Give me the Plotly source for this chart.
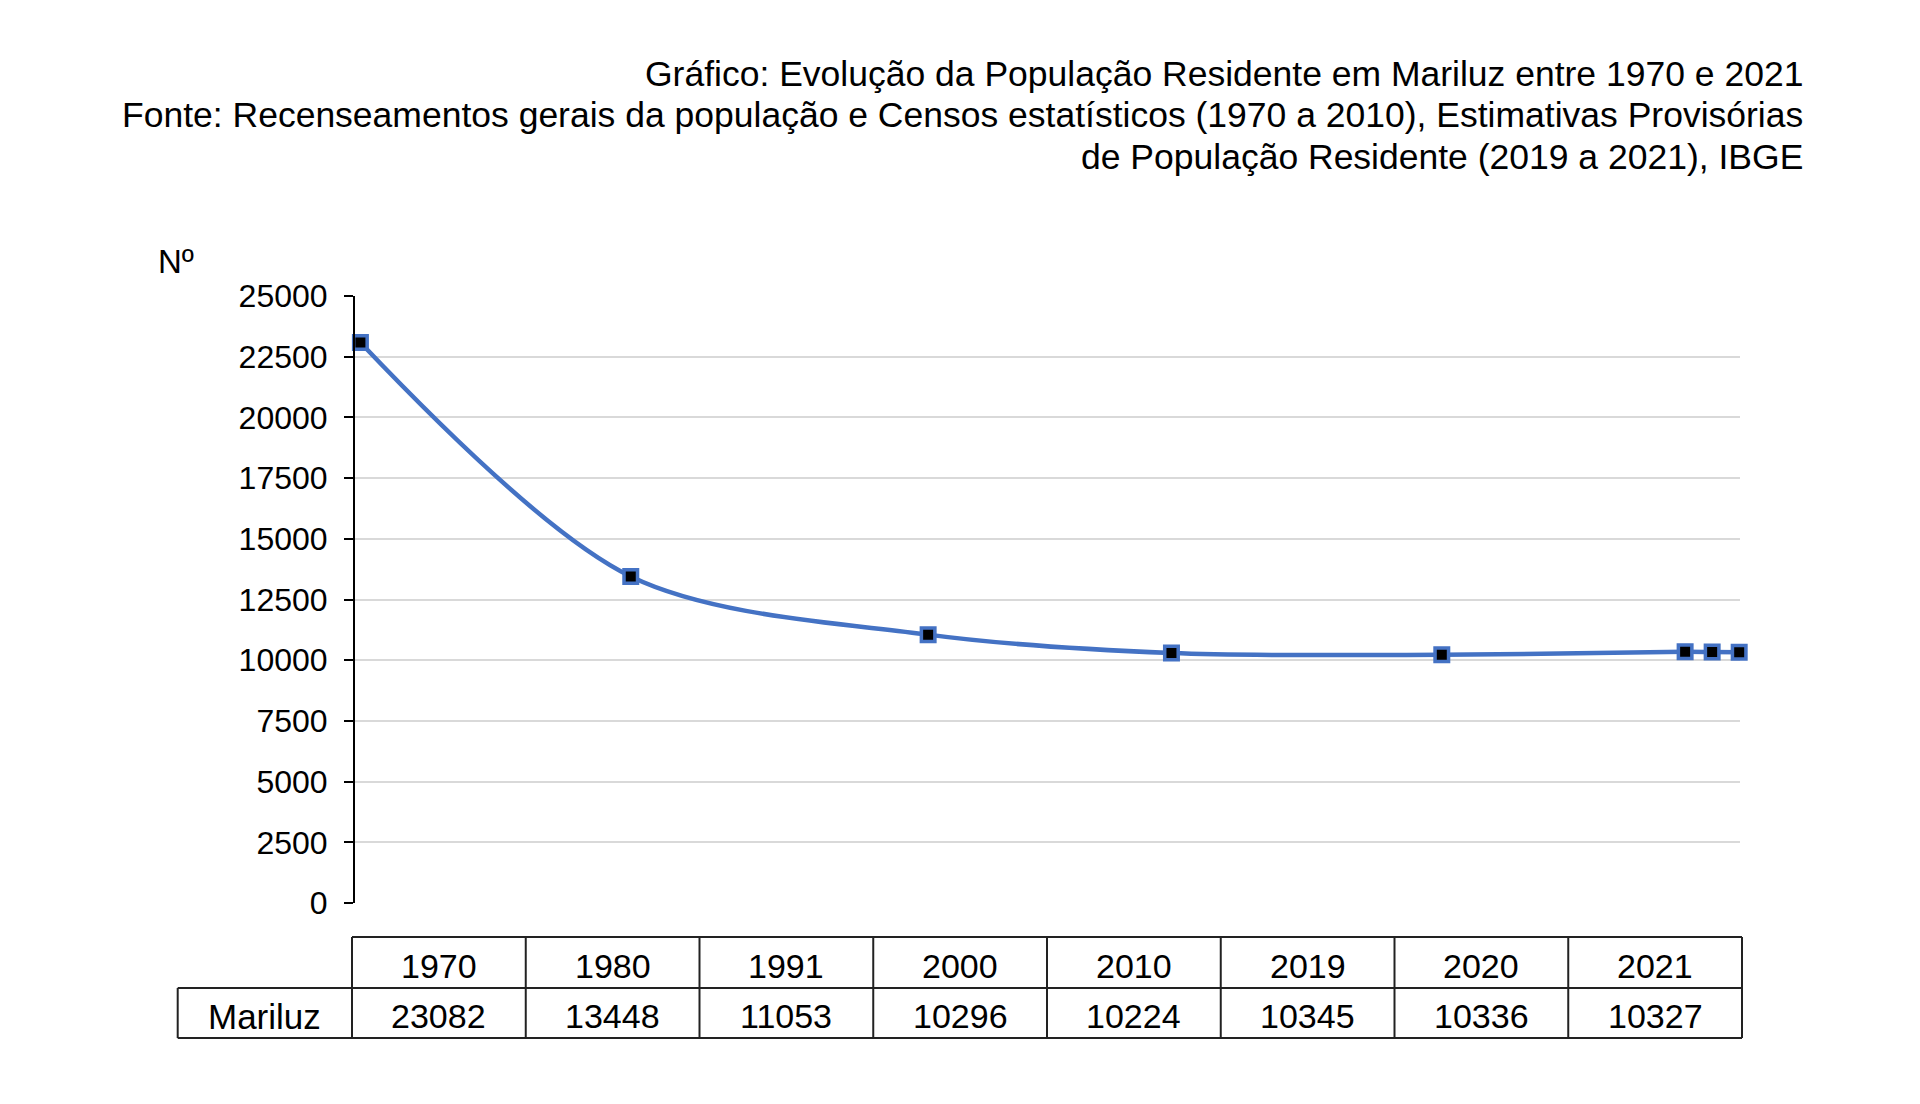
import plotly.graph_objects as go

# ---- data ----
years = [1970, 1980, 1991, 2000, 2010, 2019, 2020, 2021]
mariluz = [23082, 13448, 11053, 10296, 10224, 10345, 10336, 10327]
series_name = "Mariluz"
title_lines = [
    "Gráfico: Evolução da População Residente em Mariluz entre 1970 e 2021",
    "Fonte: Recenseamentos gerais da população e Censos estatísticos (1970 a 2010), Estimativas Provisórias",
    "de População Residente (2019 a 2021), IBGE",
]
y_label = "Nº"
y_ticks = list(range(0, 25001, 2500))

# ---- layout geometry (pixels) ----
W, H = 1920, 1104
L, R, T, B = 355, 1740, 295.7, 902.7
FONT = "Liberation Sans, Arial, sans-serif"


def px(x):
    return (x - L) / (R - L)


def py(y):
    return (B - y) / (B - T)


fig = go.Figure()
fig.add_trace(go.Scatter(
    x=years, y=mariluz, mode="lines+markers", name=series_name,
    line=dict(color="#4472C4", width=4.5, shape="spline", smoothing=0.9),
    marker=dict(symbol="square", size=13.5, color="#000000",
                line=dict(color="#4472C4", width=3.5)),
    cliponaxis=False, showlegend=False,
))

shapes = []
annotations = []

# title lines (right aligned)
title_y = [74, 115, 156.5]
for txt, yy in zip(title_lines, title_y):
    annotations.append(dict(
        text=txt, x=px(1805), y=py(yy), xref="paper", yref="paper",
        xanchor="right", yanchor="middle", showarrow=False,
        font=dict(family=FONT, size=35.5, color="#000000"),
    ))

# y label
annotations.append(dict(
    text=y_label, x=px(156), y=py(261), xref="paper", yref="paper",
    xanchor="left", yanchor="middle", showarrow=False,
    font=dict(family=FONT, size=33, color="#000000"),
))

# data table
tx0, tx1 = 352, 1742
lab_x0 = 177.7
ty0, ty1, ty2 = 936.7, 987.7, 1037.7
ncol = len(years)
cw = (tx1 - tx0) / ncol
lc = "#222222"
lw = 2


def seg(x0, y0, x1, y1):
    shapes.append(dict(type="line", xref="paper", yref="paper",
                       x0=px(x0), y0=py(y0), x1=px(x1), y1=py(y1),
                       line=dict(color=lc, width=lw)))


seg(tx0, ty0, tx1, ty0)
seg(lab_x0, ty1, tx1, ty1)
seg(lab_x0, ty2, tx1, ty2)
seg(lab_x0, ty1, lab_x0, ty2)
for i in range(ncol + 1):
    xx = tx0 + i * cw
    seg(xx, ty0, xx, ty2)

TS = 34
for i, (yr, v) in enumerate(zip(years, mariluz)):
    cx = tx0 + (i + 0.5) * cw
    annotations.append(dict(
        text=str(yr), x=px(cx), y=py(966), xref="paper", yref="paper",
        xanchor="center", yanchor="middle", showarrow=False,
        font=dict(family=FONT, size=TS, color="#000000"),
    ))
    annotations.append(dict(
        text=str(v), x=px(cx), y=py(1016), xref="paper", yref="paper",
        xanchor="center", yanchor="middle", showarrow=False,
        font=dict(family=FONT, size=TS, color="#000000"),
    ))
annotations.append(dict(
    text=series_name, x=px((lab_x0 + tx0) / 2), y=py(1016), xref="paper", yref="paper",
    xanchor="center", yanchor="middle", showarrow=False,
    font=dict(family=FONT, size=TS + 1, color="#000000"),
))

fig.update_layout(
    width=W, height=H,
    margin=dict(l=L, r=W - R, t=T, b=H - B, pad=0),
    paper_bgcolor="#ffffff", plot_bgcolor="#ffffff",
    font=dict(family=FONT, color="#000000"),
    xaxis=dict(range=[1969.8, 2021.03], showgrid=False, zeroline=False,
               showline=False, showticklabels=False, ticks=""),
    yaxis=dict(range=[0, 25000], tickmode="array", tickvals=y_ticks,
               ticktext=[str(t) for t in y_ticks],
               showgrid=True, gridcolor="#d9d9d9", gridwidth=2,
               zeroline=False, showline=True, linecolor="#000000", linewidth=2,
               ticks="outside", ticklen=9, tickwidth=2, tickcolor="#000000",
               tickfont=dict(family=FONT, size=32, color="#000000"),
               ticklabelstandoff=10),
    shapes=shapes, annotations=annotations,
)

fig.write_html("out.html")
